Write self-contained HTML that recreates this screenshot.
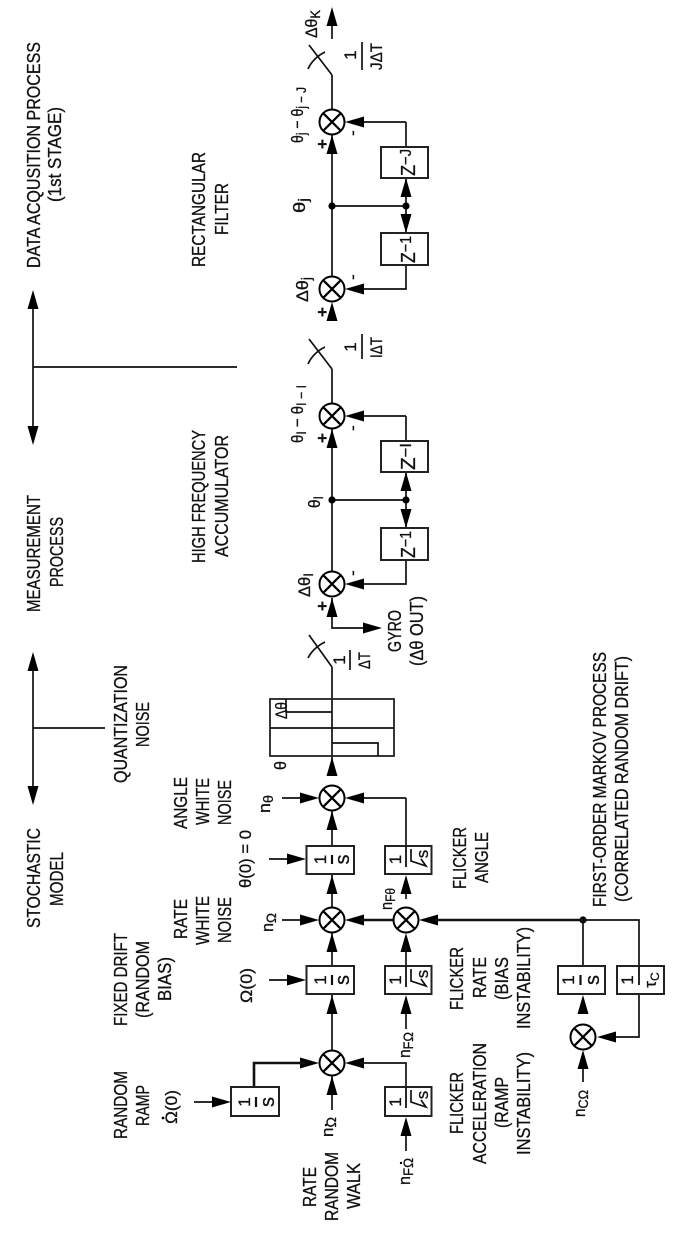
<!DOCTYPE html>
<html><head><meta charset="utf-8"><style>
html,body{margin:0;padding:0;background:#fff}
svg{display:block}
text{font-family:"Liberation Sans",sans-serif;font-size:18px;fill:#111;stroke:#111;stroke-width:.3}
.m{font-size:17px}
.s{font-size:20px}
.z{font-size:20px}
.l{fill:none;stroke:#111;stroke-width:1.7}
.k{fill:none;stroke:#111;stroke-width:2.6}
.b{fill:#fff;stroke:#222;stroke-width:2}
</style></head><body>
<svg xmlns="http://www.w3.org/2000/svg" width="685" height="1233" viewBox="0 0 685 1233">
<defs>
<polygon id="u" points="0,0 -5.5,19 5.5,19" fill="#000"/>
<polygon id="d" points="0,0 -5.5,-19 5.5,-19" fill="#000"/>
<polygon id="l" points="0,0 19,-5.5 19,5.5" fill="#000"/>
<polygon id="r" points="0,0 -19,-5.5 -19,5.5" fill="#000"/>
<g id="x"><ellipse rx="12.5" ry="12.5" fill="#fff" stroke="#000" stroke-width="2"/><path d="M-8.8,-8.8L8.8,8.8M8.8,-8.8L-8.8,8.8" stroke="#000" stroke-width="2.2" fill="none"/></g>
</defs>

<!-- process axes -->
<path class="l" d="M33,300V435M33,367H237M33,660V795M33,728H105"/>
<use href="#u" x="33" y="290"/><use href="#d" x="33" y="445"/>
<use href="#u" x="33" y="652"/><use href="#d" x="33" y="805"/>

<!-- main line -->
<path class="l" d="M332,24V39M332,75V110M332,135V277M332,369V404M332,429V572M332,598V628H370M332,667V772M332,811V846M332,874V907M332,933V966M332,994V1050M332,1076V1110"/>
<path class="l" d="M406,122H352M406,122V147M406,178V233M406,265V289H352M332,206H406"/>
<path class="l" d="M406,416H352M406,416V441M406,472V528M406,560V584H352M332,500H406"/>
<path class="l" d="M406,798H352M406,798V866"/>
<use href="#u" x="332" y="7"/>
<use href="#u" x="332" y="135"/><use href="#u" x="332" y="302"/>
<use href="#u" x="332" y="429"/><use href="#u" x="332" y="598"/>
<use href="#u" x="332" y="757"/><use href="#u" x="332" y="811"/>
<use href="#l" x="345" y="122"/><use href="#l" x="345" y="289"/>
<use href="#l" x="345" y="416"/><use href="#l" x="345" y="584"/>
<use href="#l" x="345" y="798"/>
<use href="#r" x="382" y="628"/>
<use href="#r" x="319" y="798"/><path class="l" d="M282,798H305"/>

<!-- switches -->
<path class="l" d="M332,75L309,45M308,69Q313,58 325,52M332,369L309,339M308,364Q313,353 325,347M332,667L309,635M308,658Q313,648 325,642"/>

<!-- double arrows -->
<use href="#u" x="406" y="178"/><use href="#d" x="406" y="233"/>
<use href="#u" x="406" y="472"/><use href="#d" x="406" y="528"/>

<!-- Z boxes -->
<rect class="b" x="381" y="147" width="47" height="31"/>
<rect class="b" x="381" y="233" width="47" height="32"/>
<rect class="b" x="381" y="441" width="47" height="31"/>
<rect class="b" x="381" y="528" width="47" height="32"/>

<!-- dots -->
<circle cx="332" cy="206" r="3.6"/><circle cx="406" cy="206" r="3.6"/>
<circle cx="332" cy="500" r="3.6"/><circle cx="406" cy="500" r="3.6"/>
<circle cx="583" cy="920" r="3.6"/>

<!-- quantizer -->
<rect x="270" y="699" width="124" height="57" fill="none" stroke="#222" stroke-width="1.8"/>
<path class="l" d="M270,728H394M286,699V712H332M332,743H378V756"/>

<!-- lower stochastic section -->
<path class="l" d="M269,859H290M269,980H290M194,1102H215"/>
<use href="#r" x="306" y="859"/><use href="#r" x="306" y="980"/><use href="#r" x="231" y="1102"/>
<use href="#u" x="332" y="875"/><use href="#u" x="332" y="995"/>
<use href="#u" x="332" y="933"/><use href="#u" x="332" y="1076"/>
<path class="l" d="M282,920H305M406,899V890M406,1029V1010M406,1151V1133M583,1082V1066"/>
<use href="#r" x="319" y="920"/>
<use href="#l" x="345" y="920"/><path class="k" d="M360,920H394"/>
<use href="#l" x="419" y="920"/><path class="k" d="M435,920H583"/><path class="l" d="M583,920H639V966M583,920V966M639,994V1037H615"/>
<use href="#u" x="406" y="875"/><use href="#u" x="406" y="933"/><use href="#u" x="406" y="995"/><use href="#u" x="406" y="1117"/>
<path class="l" d="M406,945V966"/>
<use href="#l" x="345" y="1063"/><path class="l" d="M360,1063H406V1087"/>
<use href="#r" x="319" y="1063"/><path class="k" d="M305,1063H254V1087"/>
<use href="#l" x="597" y="1037"/>
<use href="#u" x="583" y="995"/><use href="#u" x="583" y="1050"/>

<!-- 1/s boxes -->
<rect class="b" x="306.5" y="846" width="47.5" height="28"/>
<rect class="b" x="306.5" y="966" width="47.5" height="28"/>
<rect class="b" x="231" y="1087" width="48" height="29"/>
<rect class="b" x="558" y="966" width="47" height="28"/>
<rect class="b" x="617" y="966" width="47" height="28"/>
<path d="M332,855V864M332,975V985M256,1097V1107M580.5,975V985" stroke="#111" stroke-width="2.2"/>
<path d="M639,966V985" stroke="#111" stroke-width="1.8"/>

<!-- sqrt boxes -->
<rect class="b" x="385" y="846" width="46.5" height="28"/>
<rect class="b" x="385" y="966" width="46.5" height="28"/>
<rect class="b" x="385" y="1087" width="46.5" height="29"/>
<path d="M406,846V867M406,966V987M406,1087V1108" stroke="#111" stroke-width="1.8"/>
<path class="l" d="M411,849V861L426,866L421,859M411,969V981L426,986L421,979M411,1090V1102L426,1107L421,1100" stroke-width="2.2"/>

<!-- sums -->
<use href="#x" x="332" y="122"/><use href="#x" x="332" y="289"/>
<use href="#x" x="332" y="416"/><use href="#x" x="332" y="584"/>
<use href="#x" x="332" y="798"/><use href="#x" x="332" y="920"/>
<use href="#x" x="406" y="920"/><use href="#x" x="332" y="1063"/>
<use href="#x" x="583" y="1037"/>

<!-- big labels -->
<text transform="rotate(-90 40 268)" x="40" y="268" textLength="226" lengthAdjust="spacingAndGlyphs">DATA ACQUSITION PROCESS</text>
<text transform="rotate(-90 61 202)" x="61" y="202" textLength="95" lengthAdjust="spacingAndGlyphs">(1st STAGE)</text>
<text transform="rotate(-90 205 267)" x="205" y="267" textLength="115" lengthAdjust="spacingAndGlyphs">RECTANGULAR</text>
<text transform="rotate(-90 228 235)" x="228" y="235" textLength="52" lengthAdjust="spacingAndGlyphs">FILTER</text>
<text transform="rotate(-90 40 612)" x="40" y="612" textLength="117" lengthAdjust="spacingAndGlyphs">MEASUREMENT</text>
<text transform="rotate(-90 63 587)" x="63" y="587" textLength="70" lengthAdjust="spacingAndGlyphs">PROCESS</text>
<text transform="rotate(-90 205 563)" x="205" y="563" textLength="133" lengthAdjust="spacingAndGlyphs">HIGH FREQUENCY</text>
<text transform="rotate(-90 228 557)" x="228" y="557" textLength="122" lengthAdjust="spacingAndGlyphs">ACCUMULATOR</text>
<text transform="rotate(-90 127 783)" x="127" y="783" textLength="118" lengthAdjust="spacingAndGlyphs">QUANTIZATION</text>
<text transform="rotate(-90 149 747)" x="149" y="747" textLength="45" lengthAdjust="spacingAndGlyphs">NOISE</text>
<text transform="rotate(-90 401 652)" x="401" y="652" textLength="42" lengthAdjust="spacingAndGlyphs">GYRO</text>
<text transform="rotate(-90 423 666)" x="423" y="666" textLength="70" lengthAdjust="spacingAndGlyphs">(Δθ OUT)</text>
<text transform="rotate(-90 40 928)" x="40" y="928" textLength="100" lengthAdjust="spacingAndGlyphs">STOCHASTIC</text>
<text transform="rotate(-90 63 906)" x="63" y="906" textLength="54" lengthAdjust="spacingAndGlyphs">MODEL</text>
<text transform="rotate(-90 187 829)" x="187" y="829" textLength="52" lengthAdjust="spacingAndGlyphs">ANGLE</text>
<text transform="rotate(-90 209 825)" x="209" y="825" textLength="47" lengthAdjust="spacingAndGlyphs">WHITE</text>
<text transform="rotate(-90 231 825)" x="231" y="825" textLength="45" lengthAdjust="spacingAndGlyphs">NOISE</text>
<text transform="rotate(-90 187 939)" x="187" y="939" textLength="40" lengthAdjust="spacingAndGlyphs">RATE</text>
<text transform="rotate(-90 209 945)" x="209" y="945" textLength="49" lengthAdjust="spacingAndGlyphs">WHITE</text>
<text transform="rotate(-90 231 943)" x="231" y="943" textLength="46" lengthAdjust="spacingAndGlyphs">NOISE</text>
<text transform="rotate(-90 127 1026)" x="127" y="1026" textLength="93" lengthAdjust="spacingAndGlyphs">FIXED DRIFT</text>
<text transform="rotate(-90 149 1018)" x="149" y="1018" textLength="77" lengthAdjust="spacingAndGlyphs">(RANDOM</text>
<text transform="rotate(-90 171 1001)" x="171" y="1001" textLength="44" lengthAdjust="spacingAndGlyphs">BIAS)</text>
<text transform="rotate(-90 127 1139)" x="127" y="1139" textLength="68" lengthAdjust="spacingAndGlyphs">RANDOM</text>
<text transform="rotate(-90 149 1126)" x="149" y="1126" textLength="41" lengthAdjust="spacingAndGlyphs">RAMP</text>
<text transform="rotate(-90 316 1207)" x="316" y="1207" textLength="40" lengthAdjust="spacingAndGlyphs">RATE</text>
<text transform="rotate(-90 338 1221)" x="338" y="1221" textLength="69" lengthAdjust="spacingAndGlyphs">RANDOM</text>
<text transform="rotate(-90 360 1209)" x="360" y="1209" textLength="46" lengthAdjust="spacingAndGlyphs">WALK</text>
<text transform="rotate(-90 466 889)" x="466" y="889" textLength="62" lengthAdjust="spacingAndGlyphs">FLICKER</text>
<text transform="rotate(-90 488 883)" x="488" y="883" textLength="51" lengthAdjust="spacingAndGlyphs">ANGLE</text>
<text transform="rotate(-90 463 1010)" x="463" y="1010" textLength="63" lengthAdjust="spacingAndGlyphs">FLICKER</text>
<text transform="rotate(-90 486 998)" x="486" y="998" textLength="41" lengthAdjust="spacingAndGlyphs">RATE</text>
<text transform="rotate(-90 508 1000)" x="508" y="1000" textLength="43" lengthAdjust="spacingAndGlyphs">(BIAS</text>
<text transform="rotate(-90 530 1029)" x="530" y="1029" textLength="102" lengthAdjust="spacingAndGlyphs">INSTABILITY)</text>
<text transform="rotate(-90 463 1134)" x="463" y="1134" textLength="62" lengthAdjust="spacingAndGlyphs">FLICKER</text>
<text transform="rotate(-90 486 1164)" x="486" y="1164" textLength="121" lengthAdjust="spacingAndGlyphs">ACCELERATION</text>
<text transform="rotate(-90 508 1128)" x="508" y="1128" textLength="51" lengthAdjust="spacingAndGlyphs">(RAMP</text>
<text transform="rotate(-90 530 1155)" x="530" y="1155" textLength="103" lengthAdjust="spacingAndGlyphs">INSTABILITY)</text>
<text transform="rotate(-90 606 907)" x="606" y="907" textLength="255" lengthAdjust="spacingAndGlyphs">FIRST-ORDER MARKOV PROCESS</text>
<text transform="rotate(-90 628 902)" x="628" y="902" textLength="246" lengthAdjust="spacingAndGlyphs">(CORRELATED RANDOM DRIFT)</text>

<!-- symbols -->
<text transform="rotate(-90 317 38)" x="317" y="38" textLength="28" lengthAdjust="spacingAndGlyphs" class="m">Δθ<tspan dy="3" style="font-size:14px">K</tspan></text>
<text transform="rotate(-90 303 143)" x="303" y="143" textLength="56" lengthAdjust="spacingAndGlyphs" class="m">θ<tspan dy="3" style="font-size:14px">j</tspan><tspan dy="-3"> − θ</tspan><tspan dy="3" style="font-size:14px">j − J</tspan></text>
<text transform="rotate(-90 305 213)" x="305" y="213" textLength="15" lengthAdjust="spacingAndGlyphs" class="m">θ<tspan dy="3" style="font-size:14px">j</tspan></text>
<text transform="rotate(-90 308 302)" x="308" y="302" textLength="25" lengthAdjust="spacingAndGlyphs" class="m">Δθ<tspan dy="3" style="font-size:14px">j</tspan></text>
<text transform="rotate(-90 303 443)" x="303" y="443" textLength="58" lengthAdjust="spacingAndGlyphs" class="m">θ<tspan dy="3" style="font-size:14px">I</tspan><tspan dy="-3"> − θ</tspan><tspan dy="3" style="font-size:14px">I − I</tspan></text>
<text transform="rotate(-90 320 508)" x="320" y="508" textLength="12" lengthAdjust="spacingAndGlyphs" class="m">θ<tspan dy="3" style="font-size:14px">I</tspan></text>
<text transform="rotate(-90 310 597)" x="310" y="597" textLength="24" lengthAdjust="spacingAndGlyphs" class="m">Δθ<tspan dy="3" style="font-size:14px">I</tspan></text>
<text transform="rotate(-90 287 719)" x="287" y="719" textLength="17" lengthAdjust="spacingAndGlyphs" class="m">Δθ</text>
<text transform="rotate(-90 286 770)" x="286" y="770" textLength="9" lengthAdjust="spacingAndGlyphs" class="m">θ</text>
<text transform="rotate(-90 270 813)" x="270" y="813" textLength="18" lengthAdjust="spacingAndGlyphs" class="m">n<tspan dy="3" style="font-size:14px">θ</tspan></text>
<text transform="rotate(-90 273 932)" x="273" y="932" textLength="19" lengthAdjust="spacingAndGlyphs" class="m">n<tspan dy="3" style="font-size:14px">Ω</tspan></text>
<text transform="rotate(-90 251 888)" x="251" y="888" textLength="58" lengthAdjust="spacingAndGlyphs" class="m">θ(0) = 0</text>
<text transform="rotate(-90 252 1003)" x="252" y="1003" textLength="35" lengthAdjust="spacingAndGlyphs" class="m">Ω(0)</text>
<text transform="rotate(-90 177 1124)" x="177" y="1124" textLength="34" lengthAdjust="spacingAndGlyphs" class="m">Ω(0)</text>
<circle cx="163" cy="1118" r="1.4"/>
<text transform="rotate(-90 333 1137)" x="333" y="1137" textLength="20" lengthAdjust="spacingAndGlyphs" class="m">n<tspan dy="3" style="font-size:14px">Ω</tspan></text>
<circle cx="326" cy="1125" r="1.2"/>
<text transform="rotate(-90 392 910)" x="392" y="910" textLength="22" lengthAdjust="spacingAndGlyphs" class="m">n<tspan dy="3" style="font-size:14px">Fθ</tspan></text>
<text transform="rotate(-90 410 1058)" x="410" y="1058" textLength="26" lengthAdjust="spacingAndGlyphs" class="m">n<tspan dy="3" style="font-size:14px">FΩ</tspan></text>
<text transform="rotate(-90 410 1185)" x="410" y="1185" textLength="27" lengthAdjust="spacingAndGlyphs" class="m">n<tspan dy="3" style="font-size:14px">FΩ</tspan></text>
<circle cx="401" cy="1163" r="1.2"/>
<text transform="rotate(-90 585 1117)" x="585" y="1117" textLength="27" lengthAdjust="spacingAndGlyphs" class="m">n<tspan dy="3" style="font-size:14px">CΩ</tspan></text>

<!-- plus / minus -->
<g font-weight="bold">
<text transform="rotate(-90 328 144)" x="328" y="144" text-anchor="middle" class="m">+</text>
<text transform="rotate(-90 328 312)" x="328" y="312" text-anchor="middle" class="m">+</text>
<text transform="rotate(-90 328 438)" x="328" y="438" text-anchor="middle" class="m">+</text>
<text transform="rotate(-90 328 606)" x="328" y="606" text-anchor="middle" class="m">+</text></g>
<text transform="rotate(-90 358 133)" x="358" y="133" text-anchor="middle" class="m">-</text>
<text transform="rotate(-90 358 277)" x="358" y="277" text-anchor="middle" class="m">-</text>
<text transform="rotate(-90 358 428)" x="358" y="428" text-anchor="middle" class="m">-</text>
<text transform="rotate(-90 358 573)" x="358" y="573" text-anchor="middle" class="m">-</text>

<!-- switch gains -->
<path class="l" d="M362,42V70M362,334V359M350,650V670"/>
<text transform="rotate(-90 356 55)" x="356" y="55" text-anchor="middle" class="m">1</text>
<text transform="rotate(-90 382 70)" x="382" y="70" textLength="27" lengthAdjust="spacingAndGlyphs" class="m">JΔT</text>
<text transform="rotate(-90 356 347)" x="356" y="347" text-anchor="middle" class="m">1</text>
<text transform="rotate(-90 382 358)" x="382" y="358" textLength="21" lengthAdjust="spacingAndGlyphs" class="m">IΔT</text>
<text transform="rotate(-90 345 660)" x="345" y="660" text-anchor="middle" class="m">1</text>
<text transform="rotate(-90 370 669)" x="370" y="669" textLength="17" lengthAdjust="spacingAndGlyphs" class="m">ΔT</text>

<!-- Z text -->
<text transform="rotate(-90 415 176)" x="415" y="176" textLength="27" lengthAdjust="spacingAndGlyphs" class="z">Z<tspan dy="-4" style="font-size:16px">−J</tspan></text>
<text transform="rotate(-90 415 263)" x="415" y="263" textLength="27" lengthAdjust="spacingAndGlyphs" class="z">Z<tspan dy="-4" style="font-size:16px">−1</tspan></text>
<text transform="rotate(-90 415 470)" x="415" y="470" textLength="27" lengthAdjust="spacingAndGlyphs" class="z">Z<tspan dy="-4" style="font-size:16px">−I</tspan></text>
<text transform="rotate(-90 415 558)" x="415" y="558" textLength="27" lengthAdjust="spacingAndGlyphs" class="z">Z<tspan dy="-4" style="font-size:16px">−1</tspan></text>

<!-- box text -->
<text transform="rotate(-90 326 859.5)" x="326" y="859.5" text-anchor="middle" class="m">1</text>
<text transform="rotate(-90 349 859.5)" x="349" y="859.5" text-anchor="middle" class="s">s</text>
<text transform="rotate(-90 326 980)" x="326" y="980" text-anchor="middle" class="m">1</text>
<text transform="rotate(-90 349 980)" x="349" y="980" text-anchor="middle" class="s">s</text>
<text transform="rotate(-90 250 1102)" x="250" y="1102" text-anchor="middle" class="m">1</text>
<text transform="rotate(-90 274 1102)" x="274" y="1102" text-anchor="middle" class="s">s</text>
<text transform="rotate(-90 574 980)" x="574" y="980" text-anchor="middle" class="m">1</text>
<text transform="rotate(-90 599 980)" x="599" y="980" text-anchor="middle" class="s">s</text>
<text transform="rotate(-90 633 980)" x="633" y="980" text-anchor="middle" class="m">1</text>
<text transform="rotate(-90 656 980)" x="656" y="980" text-anchor="middle" class="m">τ<tspan dy="3" style="font-size:12px">C</tspan></text>
<text transform="rotate(-90 401 859.5)" x="401" y="859.5" text-anchor="middle" class="m">1</text>
<text transform="rotate(-90 428 854)" x="428" y="854" text-anchor="middle" class="m">s</text>
<text transform="rotate(-90 401 980)" x="401" y="980" text-anchor="middle" class="m">1</text>
<text transform="rotate(-90 428 974)" x="428" y="974" text-anchor="middle" class="m">s</text>
<text transform="rotate(-90 401 1102)" x="401" y="1102" text-anchor="middle" class="m">1</text>
<text transform="rotate(-90 428 1095)" x="428" y="1095" text-anchor="middle" class="m">s</text>
</svg>
</body></html>
